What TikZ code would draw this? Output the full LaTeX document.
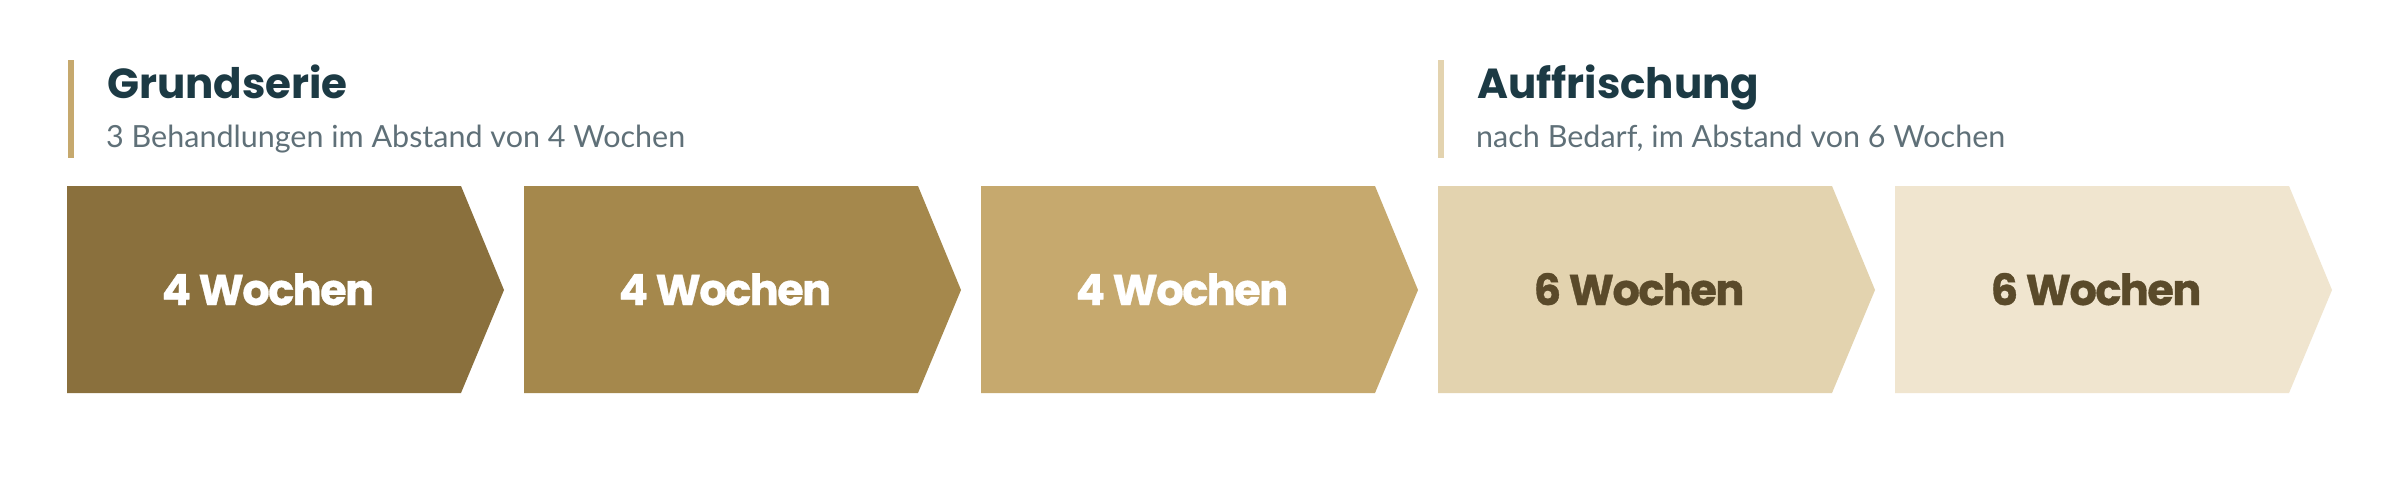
\documentclass[tikz,border=0pt]{standalone}
\usepackage{fontspec}
\newfontfamily\poppins{Poppins}
\newfontfamily\poppinsbox{Poppins}[LetterSpace=-3.5,BoldFeatures={FakeBold=0.8}]
\newfontfamily\lato{Lato}
\definecolor{cA}{HTML}{8A703D}
\definecolor{cB}{HTML}{A5884C}
\definecolor{cC}{HTML}{C6A96E}
\definecolor{cD}{HTML}{E3D3AF}
\definecolor{cE}{HTML}{F0E5CF}
\definecolor{darktxt}{HTML}{5A4A2A}
\definecolor{titlec}{HTML}{1C3A44}
\definecolor{subc}{HTML}{5F7078}
\tikzset{
  titletxt/.style={anchor=base west, inner sep=0pt, text=titlec, font=\poppins\bfseries\fontsize{42}{50}\selectfont},
  subtxt/.style={anchor=base west, inner sep=0pt, text=subc, font=\lato\fontsize{30.5}{36}\selectfont},
  boxtxt/.style={anchor=base, inner sep=0pt, font=\poppinsbox\bfseries\fontsize{43}{50}\selectfont},
}
\begin{document}
\begin{tikzpicture}[x=1pt,y=-1pt]
\useasboundingbox (0,0) rectangle (2400,496);
\fill[white] (0,0) rectangle (2400,496);
% section bars
\fill[cC] (68,60) rectangle (74,158);
\fill[cD] (1438,60) rectangle (1444,158);
% titles
\node[titletxt] (t1) at (107,98) {Grundserie};
\node[subtxt] (s1) at (106,147) {3 Behandlungen im Abstand von 4 Wochen};
\node[titletxt] (t2) at (1477,98) {Auffrischung};
\node[subtxt] (s2) at (1476,147) {nach Bedarf, im Abstand von 6 Wochen};
% chevrons
\foreach \i/\c/\tc/\t in {0/cA/white/4 Wochen,1/cB/white/4 Wochen,2/cC/white/4 Wochen,3/cD/darktxt/6 Wochen,4/cE/darktxt/6 Wochen}{
  \fill[\c] (67+457*\i,186) -- ++(394,0) -- ++(43,104) -- ++(-43,103) -- ++(-394,0) -- cycle;
  \node[boxtxt, text=\tc] (w\i) at (268+457*\i,305) {\t};
}
\end{tikzpicture}
\end{document}
